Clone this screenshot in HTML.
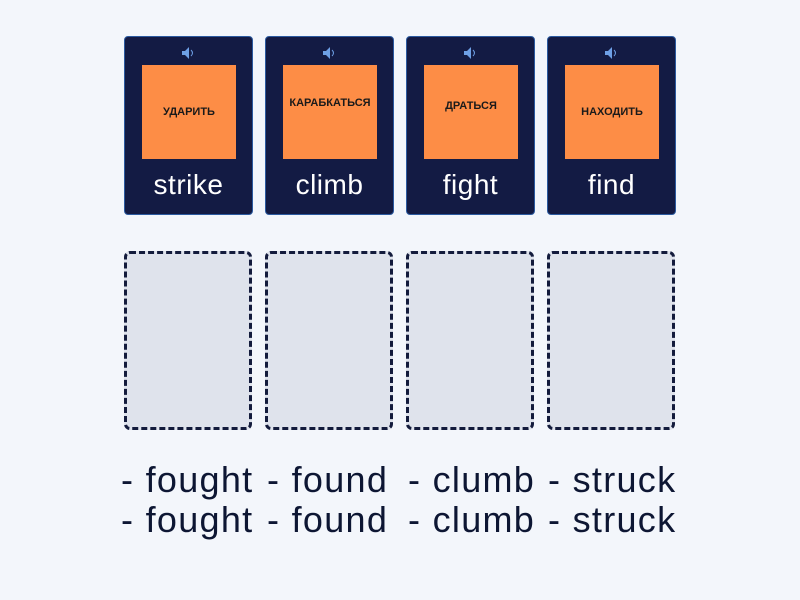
<!DOCTYPE html>
<html><head><style>
body{margin:0;width:800px;height:600px;background:#f3f6fb;position:relative;overflow:hidden;font-family:"Liberation Sans","Noto Sans CJK SC",sans-serif}
.card{position:absolute;top:36px;width:127px;height:177px;background:#131b44;border:1px solid #2b5aa0;border-radius:4px}
.sq{position:absolute;left:17px;top:28px;width:94px;height:94px;background:#fd8d46;display:flex;align-items:center;justify-content:center;font-weight:bold;font-size:11px;color:#1a1a1a}
.w{position:absolute;left:0;right:0;top:132px;text-align:center;color:#fff;font-size:28px;letter-spacing:0.5px}
.sp{position:absolute;left:56px;top:9px}
.box{position:absolute;top:251px;width:122px;height:173px;background:#dfe3ec;border:3px dashed #131b3c;border-radius:6px}
.t{position:absolute;font-size:36px;color:#0d1633;white-space:nowrap;letter-spacing:1.3px}
</style></head><body>
<div class="card" style="left:124px"><svg class="sp" width="14" height="14"><path d="M1 5h3l4-4v12l-4-4H1z" fill="#6ea0e6"/><path d="M10 4q3 3 0 6" stroke="#6ea0e6" fill="none"/></svg><div class="sq">УДАРИТЬ</div><div class="w">strike</div></div>
<div class="card" style="left:265px"><svg class="sp" width="14" height="14"><path d="M1 5h3l4-4v12l-4-4H1z" fill="#6ea0e6"/><path d="M10 4q3 3 0 6" stroke="#6ea0e6" fill="none"/></svg><div class="sq" style="align-items:flex-start"><span style="margin-top:32px">КАРАБКАТЬСЯ</span></div><div class="w">climb</div></div>
<div class="card" style="left:406px"><svg class="sp" width="14" height="14"><path d="M1 5h3l4-4v12l-4-4H1z" fill="#6ea0e6"/><path d="M10 4q3 3 0 6" stroke="#6ea0e6" fill="none"/></svg><div class="sq" style="align-items:flex-start"><span style="margin-top:35px">ДРАТЬСЯ</span></div><div class="w">fight</div></div>
<div class="card" style="left:547px"><svg class="sp" width="14" height="14"><path d="M1 5h3l4-4v12l-4-4H1z" fill="#6ea0e6"/><path d="M10 4q3 3 0 6" stroke="#6ea0e6" fill="none"/></svg><div class="sq">НАХОДИТЬ</div><div class="w">find</div></div>
<div class="box" style="left:124px"></div><div class="box" style="left:265px"></div><div class="box" style="left:406px"></div><div class="box" style="left:547px"></div>
<div class="t" style="left:121px;top:459px">- fought</div><div class="t" style="left:267px;top:459px">- found</div><div class="t" style="left:408px;top:459px">- clumb</div><div class="t" style="left:548px;top:459px">- struck</div>
<div class="t" style="left:121px;top:499px">- fought</div><div class="t" style="left:267px;top:499px">- found</div><div class="t" style="left:408px;top:499px">- clumb</div><div class="t" style="left:548px;top:499px">- struck</div>
</body></html>
